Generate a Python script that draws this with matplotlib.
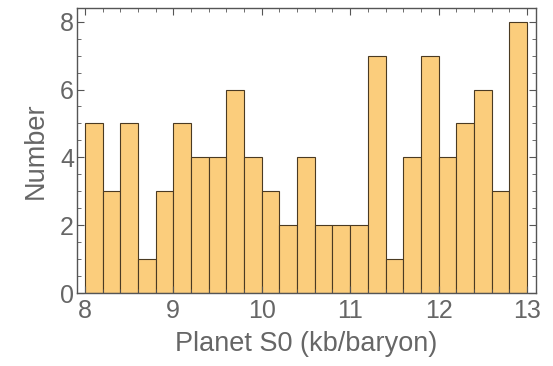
import numpy as np
import matplotlib
matplotlib.use("Agg")
import matplotlib.pyplot as plt
from matplotlib.ticker import MultipleLocator

# histogram counts, bins of width 0.2 from 8 to 13
bin_edges = np.round(np.arange(8.0, 13.01, 0.2), 2)
counts = [5, 3, 5, 1, 3, 5, 4, 4, 6, 4, 3, 2, 4, 2, 2, 2, 7, 1, 4, 7, 4, 5, 6, 3, 8]
x_ticks = [8, 9, 10, 11, 12, 13]
y_ticks = [0, 2, 4, 6, 8]

plt.rcParams["font.family"] = ["Liberation Sans", "DejaVu Sans"]

fig = plt.figure(figsize=(5.53, 3.66), dpi=100)
ax = fig.add_axes([0.139, 0.199, 0.830, 0.779])

ax.bar(bin_edges[:-1], counts, width=np.diff(bin_edges), align="edge",
       color="#fbcd7c", edgecolor="#4a3a22", linewidth=0.8)

ax.set_xlim(7.91, 13.1)
ax.set_ylim(0, 8.4)
ax.set_xticks(x_ticks)
ax.set_yticks(y_ticks)
ax.xaxis.set_minor_locator(MultipleLocator(0.2))
ax.yaxis.set_minor_locator(MultipleLocator(0.5))

ax.tick_params(which="both", direction="in", top=True, right=True,
               colors="#555555", labelcolor="#666666", labelsize=18)
ax.tick_params(which="major", length=5, width=0.8)
ax.tick_params(which="minor", length=3, width=0.6)
ax.tick_params(axis="x", pad=4)
ax.tick_params(axis="y", pad=2)

for s in ax.spines.values():
    s.set_color("#555555")
    s.set_linewidth(1.0)

ax.set_xlabel("Planet S0 (kb/baryon)", fontsize=19.5, color="#666666", labelpad=6)
ax.set_ylabel("Number", fontsize=19.5, color="#666666", labelpad=8)

fig.savefig("out.png", dpi=100)
